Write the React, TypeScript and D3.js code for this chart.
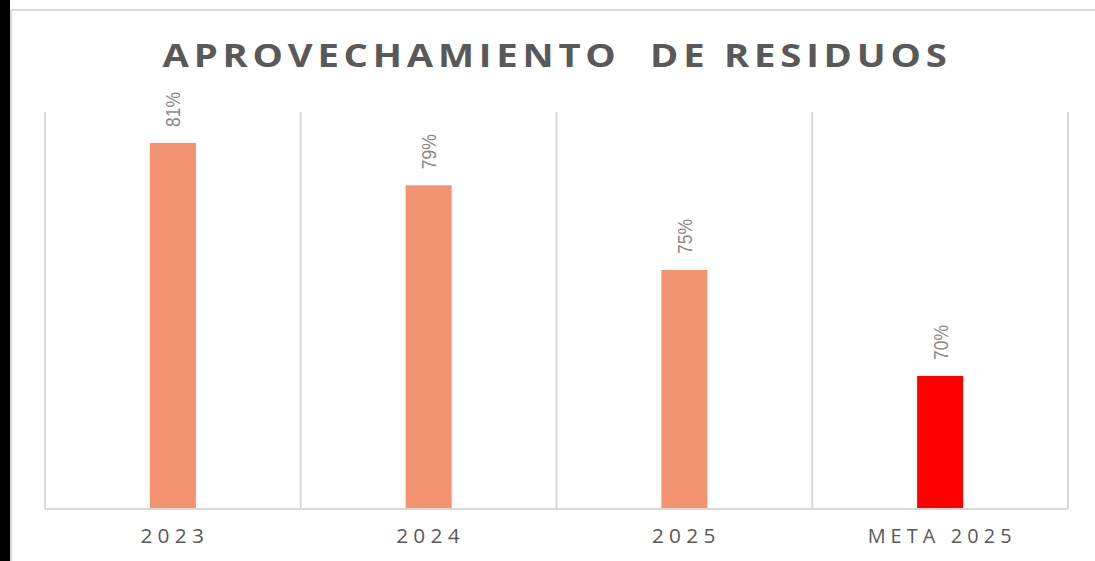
import React from "react";
import * as d3 from "d3";

const categories = ["2023", "2024", "2025", "META 2025"];
const values = [81, 79, 75, 70];
const barColors = ["#f4936f", "#f4936f", "#f4936f", "#ff0000"];
const labelWidths = [65, 65, 65, 145];

const W = 1095;
const H = 561;

export default function App() {
  const x = d3.scaleBand<string>().domain(categories).range([45, 1068]).padding(0);
  const y = d3.scaleLinear().domain([63.72, 82.46]).range([509, 112]);
  const bw = x.bandwidth() * 0.18;
  const bounds = [...categories.map((c) => x(c) as number), 1068];

  return (
    <svg
      width={W}
      height={H}
      style={{ position: "absolute", left: 0, top: 0, background: "#fff" }}
    >
      <rect x={0} y={0} width={10} height={H} fill="#000" />
      <line x1={11} y1={10} x2={W} y2={10} stroke="#d9d9d9" strokeWidth={2} />
      <line x1={11} y1={10} x2={11} y2={H} stroke="#d9d9d9" strokeWidth={2} />
      <text
        x={557}
        y={67}
        textAnchor="middle"
        fontFamily="'Open Sans', 'Liberation Sans', sans-serif"
        fontWeight={700}
        fontSize={32}
        fill="#595959"
        letterSpacing={4}
        textLength={789}
        lengthAdjust="spacingAndGlyphs"
        style={{ whiteSpace: "pre" }}
      >
        APROVECHAMIENTO  DE RESIDUOS
      </text>
      {bounds.map((b, i) => (
        <line key={i} x1={b} x2={b} y1={112} y2={509} stroke="#d9d9d9" strokeWidth={2} />
      ))}
      {categories.map((c, i) => {
        const cx = (x(c) as number) + x.bandwidth() / 2;
        return (
          <g key={c}>
            <rect
              x={cx - bw / 2}
              y={y(values[i])}
              width={bw}
              height={509 - y(values[i])}
              fill={barColors[i]}
            />
            <text
              transform={`translate(${cx + 7.5},${y(values[i]) - 16}) rotate(-90)`}
              fontFamily="'Liberation Sans', Arial, sans-serif"
              fontSize={21}
              fill="#8a8a8a"
              textLength={35}
              lengthAdjust="spacingAndGlyphs"
            >
              {values[i]}%
            </text>
            <text
              x={cx + 2}
              y={543}
              textAnchor="middle"
              fontFamily="'Open Sans', 'Liberation Sans', sans-serif"
              fontSize={19.5}
              fill="#595959"
              letterSpacing={5}
              textLength={labelWidths[i] + 4}
              lengthAdjust="spacingAndGlyphs"
            >
              {c}
            </text>
          </g>
        );
      })}
      <line x1={45} x2={1068} y1={509} y2={509} stroke="#d9d9d9" strokeWidth={2} />
    </svg>
  );
}
